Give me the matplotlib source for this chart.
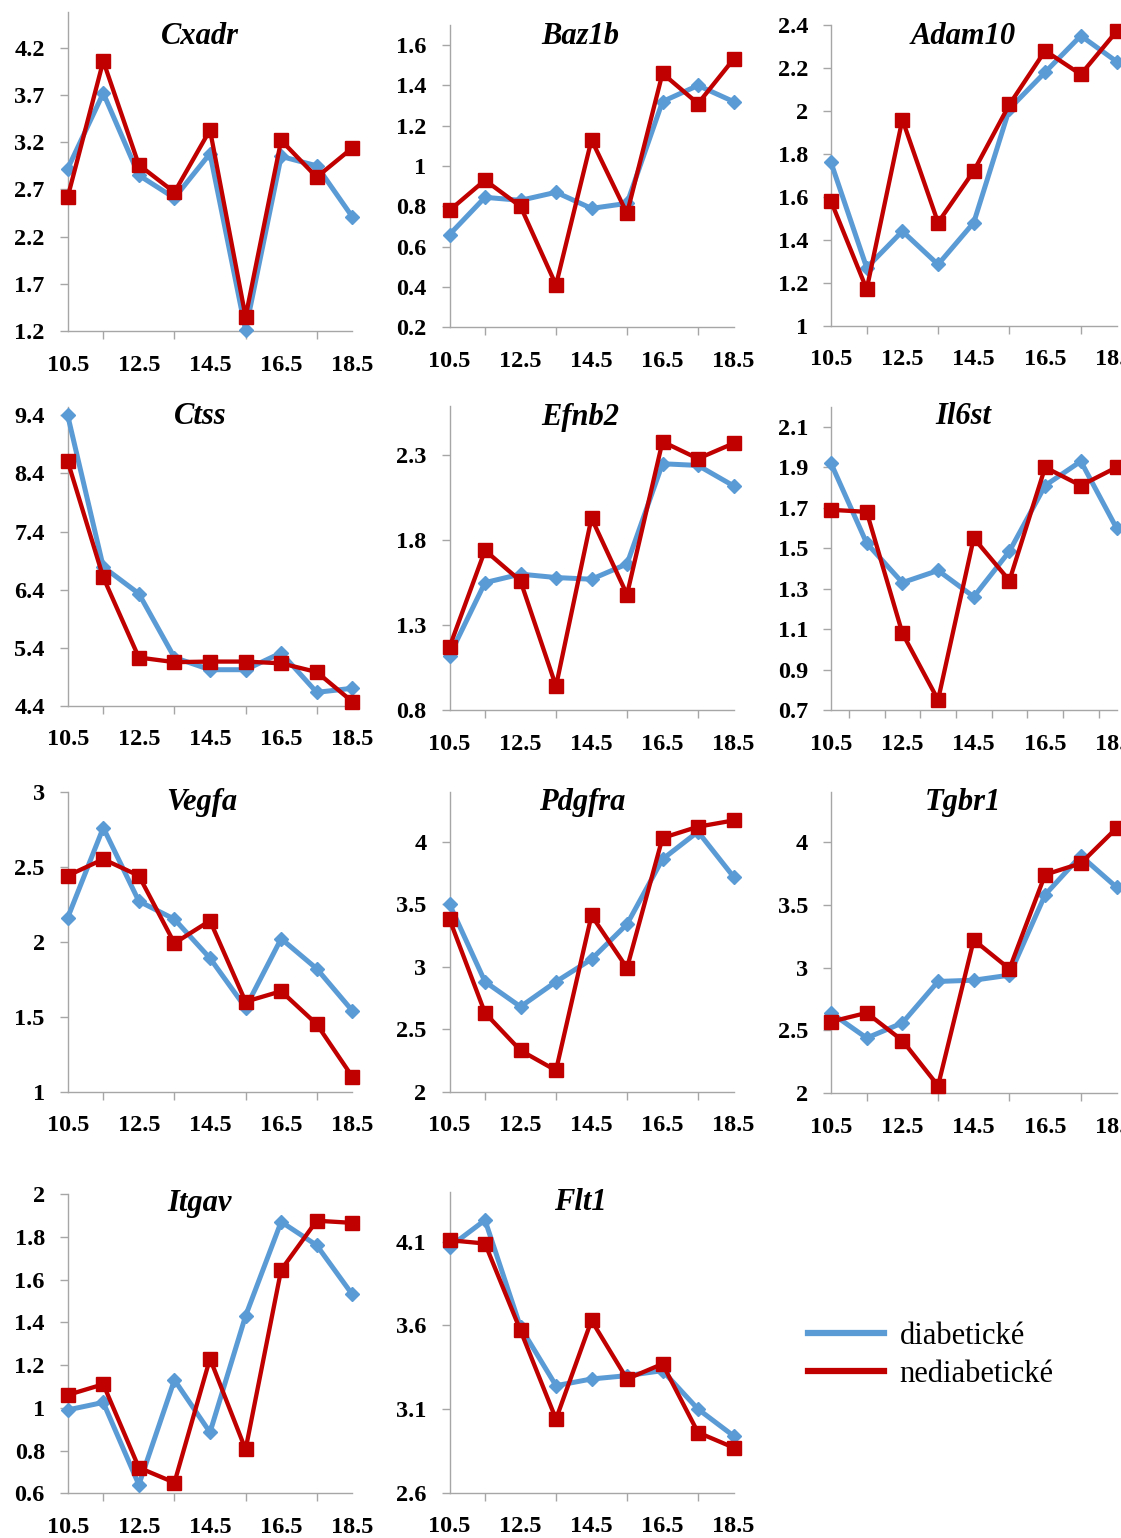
import numpy as np
import matplotlib
matplotlib.use("Agg")
import matplotlib.pyplot as plt
from matplotlib.lines import Line2D

plt.rcParams['font.family'] = ['Liberation Serif', 'DejaVu Serif']

# ---------------- data ----------------
days = [10.5, 11.5, 12.5, 13.5, 14.5, 15.5, 16.5, 17.5, 18.5]
x_labels = [10.5, 12.5, 14.5, 16.5, 18.5]
series_names = ["diabetické", "nediabetické"]

genes = ["Cxadr", "Baz1b", "Adam10", "Ctss", "Efnb2", "Il6st",
         "Vegfa", "Pdgfra", "Tgbr1", "Itgav", "Flt1"]

cxadr_diab = [2.92, 3.72, 2.85, 2.61, 3.08, 1.21, 3.05, 2.95, 2.41]
cxadr_nond = [2.62, 4.06, 2.96, 2.67, 3.33, 1.35, 3.22, 2.83, 3.14]
baz1b_diab = [0.66, 0.845, 0.83, 0.87, 0.79, 0.815, 1.32, 1.40, 1.32]
baz1b_nond = [0.78, 0.93, 0.80, 0.41, 1.13, 0.765, 1.46, 1.31, 1.53]
adam10_diab = [1.76, 1.27, 1.44, 1.285, 1.48, 2.01, 2.18, 2.35, 2.23]
adam10_nond = [1.58, 1.17, 1.96, 1.48, 1.72, 2.03, 2.28, 2.17, 2.37]
ctss_diab = [9.40, 6.79, 6.33, 5.23, 5.02, 5.02, 5.31, 4.63, 4.70]
ctss_nond = [8.61, 6.61, 5.23, 5.15, 5.16, 5.16, 5.13, 4.98, 4.47]
efnb2_diab = [1.12, 1.55, 1.60, 1.58, 1.57, 1.66, 2.25, 2.24, 2.12]
efnb2_nond = [1.17, 1.74, 1.56, 0.94, 1.93, 1.48, 2.38, 2.28, 2.37]
il6st_diab = [1.92, 1.525, 1.33, 1.39, 1.26, 1.485, 1.81, 1.93, 1.60]
il6st_nond = [1.69, 1.68, 1.08, 0.75, 1.55, 1.34, 1.90, 1.81, 1.90]
vegfa_diab = [2.16, 2.76, 2.27, 2.15, 1.89, 1.56, 2.02, 1.82, 1.54]
vegfa_nond = [2.44, 2.55, 2.44, 1.99, 2.14, 1.60, 1.67, 1.45, 1.10]
pdgfra_diab = [3.50, 2.88, 2.68, 2.88, 3.06, 3.34, 3.86, 4.08, 3.72]
pdgfra_nond = [3.38, 2.63, 2.33, 2.17, 3.41, 2.99, 4.03, 4.12, 4.17]
tgbr1_diab = [2.64, 2.44, 2.56, 2.89, 2.90, 2.94, 3.58, 3.89, 3.64]
tgbr1_nond = [2.57, 2.64, 2.42, 2.06, 3.22, 2.99, 3.74, 3.83, 4.11]
itgav_diab = [0.99, 1.025, 0.64, 1.13, 0.885, 1.43, 1.87, 1.76, 1.53]
itgav_nond = [1.06, 1.11, 0.72, 0.65, 1.23, 0.805, 1.645, 1.875, 1.865]
flt1_diab = [4.07, 4.23, 3.59, 3.24, 3.28, 3.30, 3.33, 3.10, 2.94]
flt1_nond = [4.11, 4.09, 3.57, 3.04, 3.63, 3.28, 3.37, 2.96, 2.87]

cxadr_yticks = [1.2, 1.7, 2.2, 2.7, 3.2, 3.7, 4.2]
baz1b_yticks = [0.2, 0.4, 0.6, 0.8, 1.0, 1.2, 1.4, 1.6]
adam10_yticks = [1.0, 1.2, 1.4, 1.6, 1.8, 2.0, 2.2, 2.4]
ctss_yticks = [4.4, 5.4, 6.4, 7.4, 8.4, 9.4]
efnb2_yticks = [0.8, 1.3, 1.8, 2.3]
il6st_yticks = [0.7, 0.9, 1.1, 1.3, 1.5, 1.7, 1.9, 2.1]
vegfa_yticks = [1.0, 1.5, 2.0, 2.5, 3.0]
pdgfra_yticks = [2.0, 2.5, 3.0, 3.5, 4.0]
tgbr1_yticks = [2.0, 2.5, 3.0, 3.5, 4.0]
itgav_yticks = [0.6, 0.8, 1.0, 1.2, 1.4, 1.6, 1.8, 2.0]
flt1_yticks = [2.6, 3.1, 3.6, 4.1]

diab_values = [cxadr_diab, baz1b_diab, adam10_diab, ctss_diab, efnb2_diab, il6st_diab,
               vegfa_diab, pdgfra_diab, tgbr1_diab, itgav_diab, flt1_diab]
nond_values = [cxadr_nond, baz1b_nond, adam10_nond, ctss_nond, efnb2_nond, il6st_nond,
               vegfa_nond, pdgfra_nond, tgbr1_nond, itgav_nond, flt1_nond]
yticks_all = [cxadr_yticks, baz1b_yticks, adam10_yticks, ctss_yticks, efnb2_yticks,
              il6st_yticks, vegfa_yticks, pdgfra_yticks, tgbr1_yticks, itgav_yticks,
              flt1_yticks]

# ---------------- layout (pixels) ----------------
W, H = 1121, 1538
col_lr = [(67.7, 352.3), (449.5, 733.5), (831.0, 1116.5)]
# (col, top_px, bottom_px, ymax)
panels = [
    (0, 12.0, 331.0, 4.58),
    (1, 25.0, 327.3, 1.70),
    (2, 25.0, 325.7, 2.40),
    (0, 406.7, 705.7, 9.55),
    (1, 406.0, 710.0, 2.59),
    (2, 406.7, 710.0, 2.20),
    (0, 791.7, 1091.7, 3.00),
    (1, 791.7, 1091.7, 4.40),
    (2, 791.7, 1093.3, 4.40),
    (0, 1194.0, 1493.3, 2.00),
    (1, 1191.7, 1492.7, 4.40),
]
title_xy = [(200, 36), (580, 37), (963, 37),
            (200, 417), (580, 417), (963, 417),
            (202, 803), (582, 803), (963, 803),
            (199, 1203), (580, 1203)]
between_ticks = {5}  # Il6st: tick marks between categories

blue = '#5B9BD5'
red = '#C00000'
spine_c = '#A6A6A6'

fig = plt.figure(figsize=(W / 100, H / 100), dpi=100)

for i, gene in enumerate(genes):
    col, top, bot, ymax = panels[i]
    l, r = col_lr[col]
    ax = fig.add_axes([l / W, 1 - bot / H, (r - l) / W, (bot - top) / H])
    ax.plot(days, diab_values[i], color=blue, lw=3.6, marker='D', ms=7,
            clip_on=False, zorder=3)
    ax.plot(days, nond_values[i], color=red, lw=3.1, marker='s', ms=9.5,
            clip_on=False, zorder=4)
    yt = yticks_all[i]
    ax.set_xlim(days[0], days[-1])
    ax.set_ylim(yt[0], ymax)
    ax.set_yticks(yt)
    ax.set_yticklabels(['%g' % v for v in yt])
    ax.set_xticks(x_labels)
    ax.set_xticklabels(['%g' % v for v in x_labels])
    if i in between_ticks:
        ax.set_xticks([d + 0.5 for d in days[:-1]], minor=True)
    else:
        ax.set_xticks(days, minor=True)
    ax.tick_params(axis='x', which='major', length=0, pad=17)
    ax.tick_params(axis='x', which='minor', length=5.5, width=1.0, color=spine_c)
    ax.tick_params(axis='y', which='major', length=5.5, width=1.0, color=spine_c,
                   pad=11)
    ax.tick_params(axis='both', labelsize=17.5)
    for lab in ax.get_xticklabels() + ax.get_yticklabels():
        lab.set_fontweight('bold')
    for s in ['top', 'right']:
        ax.spines[s].set_visible(False)
    for s in ['left', 'bottom']:
        ax.spines[s].set_color(spine_c)
        ax.spines[s].set_linewidth(1.0)
    ax.patch.set_visible(False)
    tx, ty = title_xy[i]
    fig.text(tx / W, 1 - ty / H, gene, ha='center', va='center',
             fontsize=22, fontweight='bold', fontstyle='italic')

handles = [Line2D([0], [0], color=blue, lw=4.5),
           Line2D([0], [0], color=red, lw=4.5)]
fig.legend(handles, series_names, loc='upper left',
           bbox_to_anchor=(808 / W, 1 - 1322 / H), frameon=False,
           fontsize=22, handlelength=2.5, handletextpad=0.5,
           labelspacing=0.3, borderpad=0, borderaxespad=0)

fig.savefig('out.png', dpi=100)
